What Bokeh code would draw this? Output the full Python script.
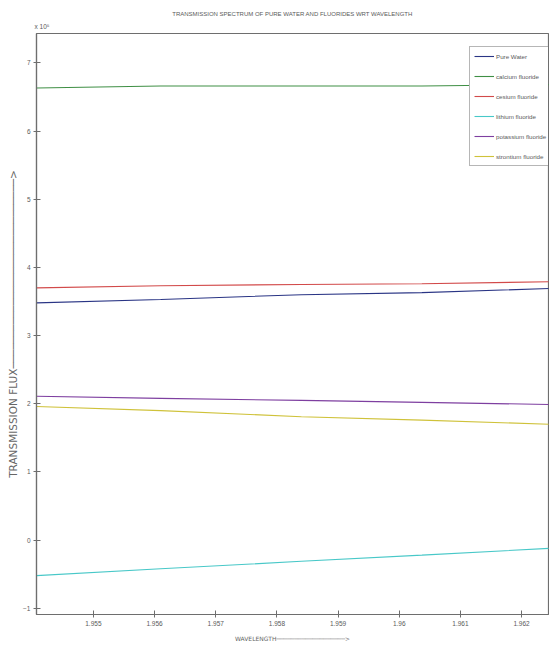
from bokeh.plotting import figure
from bokeh.models import Range1d, FixedTicker, Legend, LegendItem, Title
from bokeh.embed import file_html
from bokeh.resources import INLINE

# wavelength samples (x 1e-6) and transmission flux (x 1e5) per medium
wavelength = [1.95407, 1.95610, 1.95840, 1.96037, 1.96245]
pure_water = [3.48, 3.53, 3.60, 3.63, 3.69]
calcium_fluoride = [6.63, 6.66, 6.66, 6.66, 6.68]
cesium_fluoride = [3.70, 3.73, 3.75, 3.76, 3.79]
lithium_fluoride = [-0.52, -0.42, -0.31, -0.22, -0.12]
potassium_fluoride = [2.11, 2.08, 2.05, 2.02, 1.99]
strontium_fluoride = [1.96, 1.90, 1.81, 1.76, 1.70]

series_names = ["Pure Water", "calcium fluoride", "cesium fluoride",
                "lithium fluoride", "potassium fluoride", "strontium fluoride"]
series_values = [pure_water, calcium_fluoride, cesium_fluoride,
                 lithium_fluoride, potassium_fluoride, strontium_fluoride]
series_colors = ["#2a3585", "#3f8f45", "#d24a4a", "#48c8c8", "#7e3fa0", "#cfc23a"]

x_ticks = [1.955, 1.956, 1.957, 1.958, 1.959, 1.960, 1.961, 1.962]
x_tick_labels = ["1.955", "1.956", "1.957", "1.958", "1.959", "1.96", "1.961", "1.962"]
y_ticks = [-1, 0, 1, 2, 3, 4, 5, 6, 7]

x_lo, x_hi = 1.95407, 1.96244
y_lo, y_hi = -1.09, 7.43

axis_gray = "#6e6e6e"
text_gray = "#5a5a5a"
font = "Liberation Sans"
line_font = "DejaVu Sans"

p = figure(width=549, height=652, output_backend="svg", toolbar_location=None,
           x_range=Range1d(x_lo, x_hi), y_range=Range1d(y_lo, y_hi),
           min_border_left=36, min_border_right=1, min_border_top=33,
           min_border_bottom=38)

p.title.text = "TRANSMISSION SPECTRUM OF PURE WATER AND FLUORIDES WRT WAVELENGTH"
p.title.align = "center"
p.title.text_font = font
p.title.text_font_size = "6px"
p.title.text_font_style = "normal"
p.title.text_color = text_gray
p.title.offset = 0
p.title.standoff = 1

# axis multiplier, top left above the y axis
p.add_layout(Title(text="x 10\u2075", align="left", offset=-2, standoff=7,
                   text_font=font, text_font_size="6.5px",
                   text_font_style="normal", text_color=text_gray), "above")

p.xgrid.visible = False
p.ygrid.visible = False
p.outline_line_color = axis_gray
p.outline_line_width = 1.2
p.background_fill_color = "white"
p.border_fill_color = "white"

items = []
for name, vals, col in zip(series_names, series_values, series_colors):
    r = p.line(wavelength, vals, line_color=col, line_width=1.1)
    items.append(LegendItem(label=name, renderers=[r]))

p.xaxis.ticker = FixedTicker(ticks=x_ticks)
p.xaxis.major_label_overrides = {t: s for t, s in zip(x_ticks, x_tick_labels)}
p.yaxis.ticker = FixedTicker(ticks=y_ticks)

for ax in (p.xaxis, p.yaxis):
    ax.axis_line_color = axis_gray
    ax.axis_line_width = 1.2
    ax.major_tick_line_color = axis_gray
    ax.major_tick_in = 4
    ax.major_tick_out = 3
    ax.minor_tick_line_color = None
    ax.major_label_text_font = font
    ax.major_label_text_font_size = "6.5px"
    ax.major_label_text_color = text_gray
    ax.axis_label_text_font = line_font
    ax.axis_label_text_font_style = "normal"
    ax.axis_label_text_color = "#666666"

p.xaxis.axis_label = "WAVELENGTH" + "\u2500" * 19 + ">"
p.xaxis.axis_label_text_font_size = "6px"
p.xaxis.axis_label_standoff = 6
p.yaxis.axis_label = "TRANSMISSION FLUX" + "\u2500" * 30 + ">"
p.yaxis.axis_label_text_font_size = "10.5px"
p.yaxis.axis_label_standoff = 1
p.yaxis.major_label_standoff = 3
p.xaxis.major_label_standoff = 3

legend = Legend(items=items, location=(433, 448),
                label_text_font=font, label_text_font_size="6.2px",
                label_text_color=text_gray, glyph_width=20, glyph_height=10,
                label_height=10, label_standoff=2, spacing=10, padding=4,
                margin=0, border_line_color=axis_gray, border_line_width=1,
                background_fill_alpha=1.0)
p.add_layout(legend)

open("out.html", "w").write(file_html(p, INLINE))
